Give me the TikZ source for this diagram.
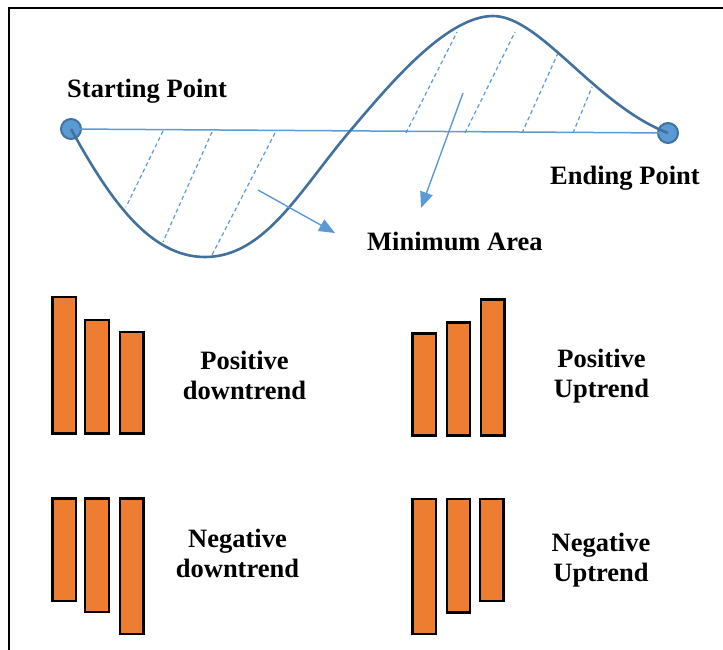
\documentclass[tikz,border=0pt]{standalone}
\usepackage{fontspec}
\setmainfont{Liberation Serif}[BoldFont={Liberation Serif Bold}]
\usetikzlibrary{arrows.meta}
\definecolor{curveblue}{RGB}{65,113,156}
\definecolor{lightblue}{RGB}{91,155,213}
\definecolor{barorange}{RGB}{237,125,49}
\tikzset{
  lbl/.style={font=\bfseries\fontsize{26.5}{30}\selectfont, inner sep=0pt},
  pair/.style={lbl, align=center, anchor=base},
  endpt/.style={circle, minimum size=20pt, inner sep=0pt, fill=lightblue, draw=curveblue, line width=2pt},
  wave/.style={draw=curveblue, line width=2.6pt},
  baseline line/.style={draw=lightblue, line width=1.5pt},
  hatch/.style={draw=lightblue, line width=1.2pt, dash pattern=on 4pt off 3pt},
  pointer/.style={draw=lightblue, line width=1.4pt, -{Triangle[length=16pt,width=13pt]}, fill=lightblue},
  bar/.style={fill=barorange, draw=black, line width=2.4pt}
}
\begin{document}
\begin{tikzpicture}[x=1pt, y=-1pt]
\useasboundingbox (0,0) rectangle (723,650);
% frame
\draw[line width=2.4pt] (723,8) -- (9,8) -- (9,650);

% start / end points and the straight connection
\node[endpt] (start) at (71,129) {};
\node[endpt] (end) at (668,133) {};
\draw[baseline line] (start.center) -- (end.center);

% hatching of the enclosed area
\draw[hatch] (163,131) -- (126,207);
\draw[hatch] (212,132) -- (163,242);
\draw[hatch] (275,133) -- (212,255);
\draw[hatch] (406,133) -- (457,32);
\draw[hatch] (465,133) -- (515,32);
\draw[hatch] (522,133) -- (558,53);
\draw[hatch] (573,133) -- (592,87);

% the price curve
\draw[wave] (start.center) .. controls (110,200) and (150,257) .. (205,257)
  .. controls (265,257) and (300,190) .. (350,131)
  .. controls (385,90) and (445,16) .. (493,16)
  .. controls (540,16) and (595,105) .. (end.center);

% labels
\node[lbl, anchor=base west] (startlbl) at (67,97.5) {Starting Point};
\node[lbl, anchor=base west] (endlbl) at (550,185) {Ending Point};
\node[lbl, anchor=base west] (area) at (367,250.5) {Minimum Area};

% pointers to the area label
\coordinate (p1a) at (258,190);
\coordinate (p1b) at (335,233);
\coordinate (p2a) at (463,93);
\coordinate (p2b) at (421,208);
\draw[pointer] (p1a) -- (p1b);
\draw[pointer] (p2a) -- (p2b);

% positive downtrend (anchor sits on the last line's baseline)
\draw[bar] (52.3,296.7) rectangle (75.7,433.5);
\draw[bar] (85,320) rectangle (108.7,433.5);
\draw[bar] (120,331.7) rectangle (143.3,433.5);
\node[pair] (pd) at (244.5,399.5) {Positive\\downtrend};

% negative downtrend
\draw[bar] (52.3,498.3) rectangle (75.7,600.7);
\draw[bar] (85,498.3) rectangle (108.7,611.7);
\draw[bar] (120,498.3) rectangle (143.3,634);
\node[pair] (nd) at (237.5,577) {Negative\\downtrend};

% positive uptrend
\draw[bar] (412.3,333.3) rectangle (435.7,435.3);
\draw[bar] (446.7,322.3) rectangle (470,435.3);
\draw[bar] (481,299.3) rectangle (504.3,435.3);
\node[pair] (pu) at (601.5,397.5) {Positive\\Uptrend};

% negative uptrend
\draw[bar] (412.3,499) rectangle (435.7,634);
\draw[bar] (446.7,499) rectangle (470,612.3);
\draw[bar] (480,499) rectangle (503.3,600.7);
\node[pair] (nu) at (601,581.5) {Negative\\Uptrend};
\end{tikzpicture}
\end{document}
